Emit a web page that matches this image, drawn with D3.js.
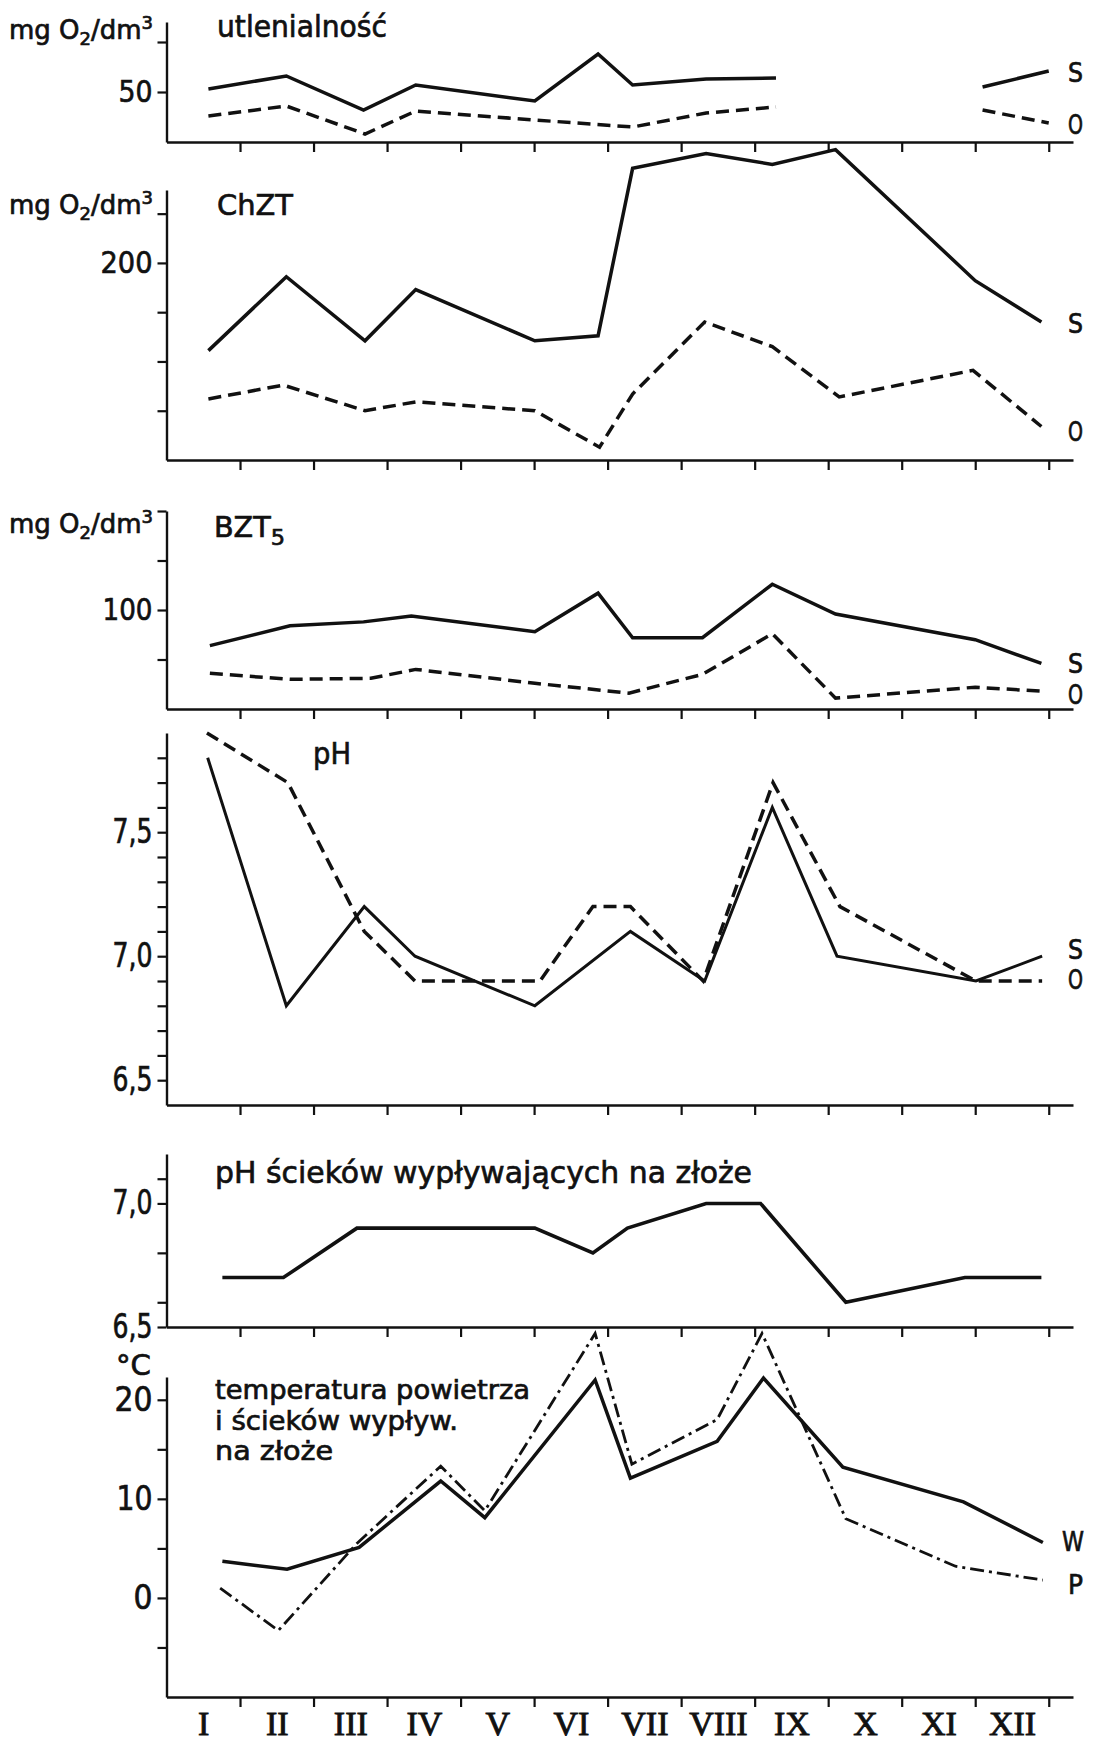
<!DOCTYPE html>
<html><head><meta charset="utf-8">
<script src="https://cdn.jsdelivr.net/npm/d3@7"></script>
<style>body{margin:0;background:#fff}</style>
</head><body>
<svg id="chart" width="1097" height="1742"></svg>
<script>
// ---------- data (x = position in the year, in months from 1 January) ----------
const monthNames = ["I","II","III","IV","V","VI","VII","VIII","IX","X","XI","XII"];
const monthBounds = [1,2,3,4,5,6,7,8,9,10,11,12];

// utlenialność, mg O2/dm3
const utlS_m = [0.57, 1.63, 2.68, 3.39, 5.01, 5.87, 6.34, 7.34, 8.29, 9.6, 11.10, 12.0];
const utlS_v = [53, 66, 32, 57, 41, 88, 57, 63, 64, null, 55, 71];
const utlO_m = [0.57, 1.63, 2.70, 3.39, 5.01, 6.34, 7.34, 8.29, 9.6, 11.10, 12.0];
const utlO_v = [26, 36, 8, 31, 22, 15, 29, 35, null, 32, 19];

// ChZT, mg O2/dm3
const chztS_m = [0.57, 1.63, 2.70, 3.39, 5.01, 5.87, 6.34, 7.34, 8.24, 9.10, 11.00, 11.90];
const chztS_v = [111, 186, 121, 173, 121, 126, 296, 311, 300, 315, 182, 140];
const chztO_m = [0.57, 1.59, 2.70, 3.39, 5.01, 5.89, 6.34, 7.32, 8.24, 9.15, 10.97, 11.90];
const chztO_v = [62, 76, 50, 59, 50, 13, 67, 140, 115, 64, 91, 34];

// BZT5, mg O2/dm3
const bztS_m = [0.59, 1.68, 2.68, 3.33, 5.01, 5.87, 6.34, 7.29, 8.24, 9.10, 11.00, 11.90];
const bztS_v = [64, 84, 88, 94, 78, 117, 72, 72, 126, 96, 70, 46];
const bztO_m = [0.59, 1.68, 2.78, 3.39, 5.01, 6.29, 7.29, 8.24, 9.10, 11.00, 11.90];
const bztO_v = [36, 30, 31, 40, 26, 16, 35, 76, 11, 22, 18];

// pH
const phS_m = [0.56, 1.63, 2.69, 3.38, 5.01, 6.31, 7.32, 8.24, 9.12, 11.01, 11.91];
const phS_v = [7.8, 6.8, 7.2, 7.0, 6.8, 7.1, 6.9, 7.6, 7.0, 6.9, 7.0];
const phO_m = [0.55, 1.65, 2.69, 3.38, 5.08, 5.80, 6.31, 7.30, 8.25, 9.16, 11.01, 11.91];
const phO_v = [7.9, 7.7, 7.1, 6.9, 6.9, 7.2, 7.2, 6.9, 7.7, 7.2, 6.9, 6.9];

// pH ścieków wypływających na złoże
const phW_m = [0.76, 1.59, 2.59, 5.01, 5.80, 6.27, 7.34, 8.08, 9.24, 10.86, 11.90];
const phW_v = [6.7, 6.7, 6.9, 6.9, 6.8, 6.9, 7.0, 7.0, 6.6, 6.7, 6.7];

// temperatura, °C
const tW_m = [0.76, 1.64, 2.62, 3.73, 4.33, 5.83, 6.31, 7.49, 8.12, 9.20, 10.84, 11.92];
const tW_v = [3.7, 2.9, 5.1, 11.8, 8.1, 22.0, 12.1, 15.8, 22.2, 13.2, 9.7, 5.6];
const tP_m = [0.73, 1.52, 2.59, 3.73, 4.33, 5.83, 6.33, 7.49, 8.10, 9.24, 10.73, 11.92];
const tP_v = [1.0, -3.3, 5.5, 13.3, 8.8, 26.7, 13.5, 18.0, 26.7, 8.0, 3.2, 1.8];

// ---------- drawing ----------
const svg = d3.select("#chart");
svg.append("rect").attr("width", 1097).attr("height", 1742).attr("fill", "#fff");
const INK = "#111";
const SANS = "'DejaVu Sans', 'Liberation Sans', sans-serif";
const SERIF = "'Liberation Serif', 'DejaVu Serif', serif";
const TEXT_STROKE = 0.7;

const x = d3.scaleLinear().domain([0, 12.33]).range([166.5, 1073]);
const zip = (m, v) => m.map((d, i) => ({m: d, v: v[i]}));
const commaFmt = v => d3.format(".1f")(v).replace(".", ",");

const STYLE = {
  solid: {w: 3.5, dash: null},
  dashed: {w: 3.5, dash: "13,7"},
  dashdot: {w: 2.8, dash: "14,5,3,5"}
};

function inked(sel) {
  return sel.attr("fill", INK).attr("stroke", INK).attr("stroke-width", TEXT_STROKE);
}

function addText(g, o) {
  const t = inked(g.append("text").attr("x", o.x).attr("y", o.y)
    .attr("font-family", o.family || SANS).attr("font-size", o.size)
    .attr("text-anchor", o.anchor || "start"));
  if (o.parts) {
    o.parts.forEach(p => {
      const s = t.append("tspan").text(p.t);
      if (p.size) s.attr("font-size", p.size);
      if (p.dy) s.attr("dy", p.dy);
    });
  } else t.text(o.text);
  if (o.len) t.attr("textLength", o.len).attr("lengthAdjust", "spacingAndGlyphs");
  return t;
}

function panel(cfg) {
  const g = svg.append("g");
  const y = d3.scaleLinear().domain(cfg.domain).range(cfg.range);
  const y0 = cfg.range[0];

  // x axis
  const xa = g.append("g").attr("transform", `translate(0,${y0})`)
    .call(d3.axisBottom(x).tickValues(monthBounds).tickSize(10).tickSizeOuter(0).tickFormat(""));
  xa.select(".domain").attr("stroke", INK).attr("stroke-width", 2.4);
  xa.selectAll(".tick line").attr("stroke", INK).attr("stroke-width", 2.2);

  // y axis
  const ya = g.append("g").attr("transform", `translate(${x(0)},0)`)
    .call(d3.axisLeft(y).tickValues(cfg.ticks).tickSize(9).tickSizeOuter(0).tickPadding(5)
      .tickFormat(v => {
        const l = cfg.labels.find(e => Math.abs(e.v - v) < 1e-9);
        return l ? cfg.fmt(v) : "";
      }));
  ya.select(".domain").attr("stroke", INK).attr("stroke-width", 2.4);
  ya.selectAll(".tick line").attr("stroke", INK).attr("stroke-width", 2.2);
  inked(ya.selectAll(".tick text").attr("font-family", SANS).attr("font-size", cfg.labelSize))
    .each(function(v) {
      const l = cfg.labels.find(e => Math.abs(e.v - v) < 1e-9);
      if (l) d3.select(this).attr("textLength", l.w).attr("lengthAdjust", "spacingAndGlyphs");
    });

  // series
  const line = d3.line().defined(d => d.v != null).x(d => x(d.m)).y(d => y(d.v));
  cfg.series.forEach(s => {
    const st = STYLE[s.style];
    g.append("path").datum(zip(s.m, s.v)).attr("d", line)
      .attr("fill", "none").attr("stroke", INK).attr("stroke-width", s.w || st.w)
      .attr("stroke-dasharray", st.dash).attr("stroke-linejoin", "miter")
      .attr("stroke-miterlimit", 6);
    if (s.name) addText(g, {x: s.lx, y: s.ly, size: s.ls || 26, text: s.name, len: s.lw});
  });
  return g;
}

// unit label "mg O2/dm3" with sub/superscript, natural glyph widths
function unitLabel(baseline) {
  addText(svg, {x: 9, y: baseline, size: 26, parts: [
    {t: "mg O"}, {t: "2", size: 18, dy: 6}, {t: "/dm", dy: -6}, {t: "3", size: 18, dy: -10}
  ]});
}

// Panel 1: utlenialność
panel({domain: [0, 120], range: [142, 22], ticks: [50, 100], labels: [{v: 50, w: 34}],
  fmt: d3.format("d"), labelSize: 31,
  series: [
    {m: utlS_m, v: utlS_v, style: "solid", name: "S", lx: 1068, ly: 82, lw: 15},
    {m: utlO_m, v: utlO_v, style: "dashed", name: "O", lx: 1068, ly: 134, lw: 15}
  ]});
unitLabel(39);
addText(svg, {x: 217, y: 37, size: 30, text: "utlenialność", len: 170});

// Panel 2: ChZT
panel({domain: [0, 274], range: [460, 190], ticks: [50, 100, 150, 200, 250], labels: [{v: 200, w: 52}],
  fmt: d3.format("d"), labelSize: 31,
  series: [
    {m: chztS_m, v: chztS_v, style: "solid", name: "S", lx: 1068, ly: 333, lw: 15},
    {m: chztO_m, v: chztO_v, style: "dashed", name: "O", lx: 1068, ly: 441, lw: 15}
  ]});
unitLabel(214);
addText(svg, {x: 217, y: 215, size: 29, text: "ChZT", len: 76});

// Panel 3: BZT5
panel({domain: [0, 200], range: [709, 511], ticks: [50, 100, 150, 200], labels: [{v: 100, w: 50}],
  fmt: d3.format("d"), labelSize: 31,
  series: [
    {m: bztS_m, v: bztS_v, style: "solid", name: "S", lx: 1068, ly: 673, lw: 15},
    {m: bztO_m, v: bztO_v, style: "dashed", name: "O", lx: 1068, ly: 704, lw: 15}
  ]});
unitLabel(533);
addText(svg, {x: 214, y: 537, size: 28, len: 71, parts: [{t: "BZT"}, {t: "5", size: 22, dy: 8}]});

// Panel 4: pH
panel({domain: [6.4, 7.9], range: [1105, 733],
  ticks: d3.range(65, 79).map(d => d / 10),
  labels: [{v: 6.5, w: 40}, {v: 7.0, w: 40}, {v: 7.5, w: 40}],
  fmt: commaFmt, labelSize: 33,
  series: [
    {m: phS_m, v: phS_v, style: "solid", w: 3.0, name: "S", lx: 1068, ly: 959, lw: 15},
    {m: phO_m, v: phO_v, style: "dashed", name: "O", lx: 1068, ly: 989, lw: 15}
  ]});
addText(svg, {x: 313, y: 764, size: 31, text: "pH", len: 38});

// Panel 5: pH ścieków wypływających na złoże
panel({domain: [6.5, 7.2], range: [1327, 1154], ticks: [6.5, 6.6, 6.8, 7.0, 7.1],
  labels: [{v: 6.5, w: 40}, {v: 7.0, w: 40}],
  fmt: commaFmt, labelSize: 33,
  series: [
    {m: phW_m, v: phW_v, style: "solid", w: 3.6}
  ]});
addText(svg, {x: 215, y: 1183, size: 31, text: "pH ścieków wypływających na złoże", len: 537});

// Panel 6: temperatura
panel({domain: [-10, 22.3], range: [1697, 1377], ticks: [-5, 0, 5, 10, 15, 20],
  labels: [{v: 0, w: 19}, {v: 10, w: 36}, {v: 20, w: 38}],
  fmt: d3.format("d"), labelSize: 33,
  series: [
    {m: tW_m, v: tW_v, style: "solid", name: "W", lx: 1062, ly: 1551, ls: 27, lw: 22},
    {m: tP_m, v: tP_v, style: "dashdot", name: "P", lx: 1068, ly: 1594, ls: 27, lw: 15}
  ]});
addText(svg, {x: 116, y: 1375, size: 28, text: "°C", len: 35});

// description of the temperature panel, three lines
const tempLines = [
  {t: "temperatura powietrza", w: 315, y: 1399},
  {t: "i ścieków wypływ.", w: 243, y: 1430},
  {t: "na złoże", w: 118, y: 1460}
];
tempLines.forEach(l => addText(svg, {x: 215, y: l.y, size: 26, text: l.t, len: l.w}));

// month labels
const ml = svg.append("g").attr("transform", "translate(0,1697)")
  .call(d3.axisBottom(x).tickValues(d3.range(12).map(i => i + 0.5)).tickSize(0).tickPadding(0)
    .tickFormat((d, i) => monthNames[i]));
ml.select(".domain").remove();
ml.selectAll(".tick text").attr("font-family", SERIF).attr("font-size", 34)
  .attr("fill", INK).attr("stroke", INK).attr("stroke-width", 0.9)
  .attr("dy", null).attr("y", 38);
</script>
</body></html>
